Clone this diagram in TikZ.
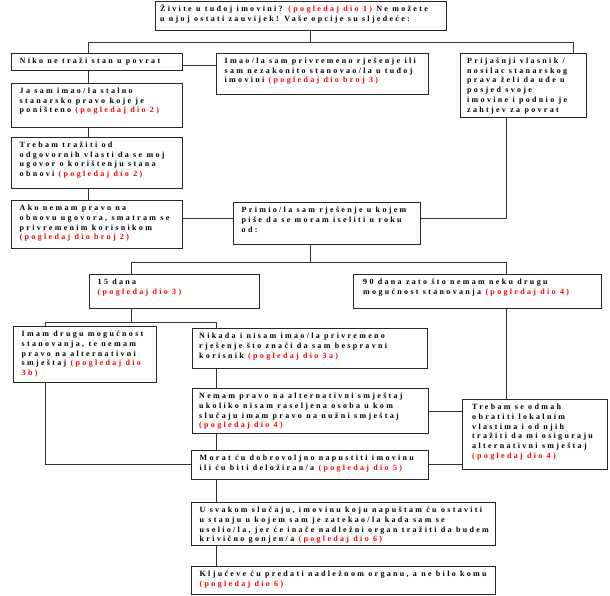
\documentclass[tikz,border=0pt]{standalone}
\usepackage{fontspec}
\usepackage{xcolor}
\newfontfamily\dfont{Liberation Serif}[LetterSpace=29]
\newcommand\refr[1]{\textcolor{red}{#1}}
\tikzset{
  box/.style={draw=black!85, line width=0.8pt, rectangle, inner sep=0pt},
  txt/.style={align=left, inner sep=0pt, font=\dfont\bfseries\fontsize{8}{9.7}\selectfont},
  conn/.style={draw=black!80, line width=0.8pt}
}
\newcommand\bx[7][8.5]{%
  \node[box, minimum width={#5-#3}, minimum height={#6-#4}, anchor=north west] (#2) at (#3,#4) {};
  \node[txt, anchor=north west] (#2-t) at ([xshift=#1pt]#2.north west) {\rule{0pt}{10.4pt}#7};
}
\begin{document}
\begin{tikzpicture}[x=1pt,y=-1pt]
\useasboundingbox (0,0) rectangle (610,596);
\fill[white] (0,0) rectangle (610,596);

\bx[5]{top}{155}{1}{446}{30}{Živite u tuđoj imovini? \refr{(pogledaj dio 1)} Ne možete\\u njoj ostati zauvijek! Vaše opcije su sljedeće:}
\bx{niko}{11}{53}{182}{70}{Niko ne traži stan u povrat}
\bx{imao}{216}{53}{428}{94}{Imao/la sam privremeno rješenje ili\\sam nezakonito stanovao/la u tuđoj\\imovini \refr{(pogledaj dio broj 3)}}
\bx[7]{prij}{460}{53}{586}{117}{Prijašnji vlasnik /\\nosilac stanarskog\\prava želi da uđe u\\posjed svoje\\imovine i podnio je\\zahtjev za povrat}
\bx{ja}{11}{83}{182}{127}{Ja sam imao/la stalno\\stanarsko pravo koje je\\poništeno \refr{(pogledaj dio 2)}}
\bx{trebam}{11}{137}{182}{188}{Trebam tražiti od\\odgovornih vlasti da se moj\\ugovor o korištenju stana\\obnovi \refr{(pogledaj dio 2)}}
\bx{ako}{11}{200}{182}{248}{Ako nemam pravo na\\obnovu ugovora, smatram se\\privremenim korisnikom\\\refr{(pogledaj dio broj 2)}}
\bx{primio}{233}{202}{420}{244}{Primio/la sam rješenje u kojem\\piše da se moram iseliti u roku\\od:}
\bx{d15}{89}{274}{259}{308}{15 dana\\\refr{(pogledaj dio 3)}}
\bx[10]{d90}{353}{274}{601}{308}{90 dana zato što nemam neku drugu\\mogućnost stanovanja \refr{(pogledaj dio 4)}}
\bx{imam}{13}{326}{156}{382}{Imam drugu mogućnost\\stanovanja, te nemam\\pravo na alternativni\\smještaj \refr{(pogledaj dio}\\\refr{3b)}}
\bx[7]{nikada}{192}{328}{427}{368}{Nikada i nisam imao/la privremeno\\rješenje što znači da sam bespravni\\korisnik \refr{(pogledaj dio 3a)}}
\bx[7]{nemam}{192}{388}{428}{433}{Nemam pravo na alternativni smještaj\\ukoliko nisam raseljena osoba u kom\\slučaju imam pravo na nužni smještaj\\\refr{(pogledaj dio 4)}}
\bx[10]{trse}{462}{399}{607}{469}{Trebam se odmah\\obratiti lokalnim\\vlastima i od njih\\tražiti da mi osiguraju\\alternativni smještaj\\\refr{(pogledaj dio 4)}}
\bx{morat}{191}{450}{428}{479}{Morat ću dobrovoljno napustiti imovinu\\ili ću biti deložiran/a \refr{(pogledaj dio 5)}}
\bx{usvakom}{191}{502}{495}{545}{U svakom slučaju, imovinu koju napuštam ću ostaviti\\u stanju u kojem sam je zatekao/la kada sam se\\uselio/la, jer će inače nadležni organ tražiti da budem\\krivično gonjen/a \refr{(pogledaj dio 6)}}
\bx{kljuc}{191}{566}{495}{594}{Ključeve ću predati nadležnom organu, a ne bilo komu\\\refr{(pogledaj dio 6)}}

% coordinates
\coordinate (c1) at (310,42);
\coordinate (cL) at (88,42);
\coordinate (cR) at (573,42);
\coordinate (h1) at (200,65);
\coordinate (h2) at (200,218);
\coordinate (v1) at (506,218);
\coordinate (b2) at (310,262);
\coordinate (b2L) at (131,262);
\coordinate (b2R) at (506,262);
\coordinate (b3) at (131,322);
\coordinate (b3L) at (45,322);
\coordinate (b3R) at (216,322);
\coordinate (h4) at (445,411);
\coordinate (h5) at (445,464);
\coordinate (h6) at (45,464);

\path[conn] (top.south -| c1) -- (c1);
\path[conn] (niko.north -| cL) -- (cL) -- (cR) -- (prij.north -| cR);
\path[conn] (niko.east |- h1) -- (imao.west |- h1);
\path[conn] (niko.south -| cL) -- (ja.north -| cL);
\path[conn] (ja.south -| cL) -- (trebam.north -| cL);
\path[conn] (trebam.south -| cL) -- (ako.north -| cL);
\path[conn] (ako.east |- h2) -- (primio.west |- h2);
\path[conn] (primio.east |- v1) -- (v1) -- (prij.south -| v1);
\path[conn] (primio.south -| b2) -- (b2);
\path[conn] (d15.north -| b2L) -- (b2L) -- (b2R) -- (d90.north -| b2R);
\path[conn] (d15.south -| b3) -- (b3);
\path[conn] (imam.north -| b3L) -- (b3L) -- (b3R) -- (nikada.north -| b3R);
\path[conn] (nikada.south -| b3R) -- (nemam.north -| b3R);
\path[conn] (nemam.south -| b3R) -- (morat.north -| b3R);
\path[conn] (morat.south -| b3R) -- (usvakom.north -| b3R);
\path[conn] (usvakom.south -| b3R) -- (kljuc.north -| b3R);
\path[conn] (d90.south -| b2R) -- (trse.north -| b2R);
\path[conn] (nemam.east |- h4) -- (trse.west |- h4);
\path[conn] (morat.east |- h5) -- (trse.west |- h5);
\path[conn] (imam.south -| h6) -- (h6) -- (morat.west |- h6);
\end{tikzpicture}
\end{document}
